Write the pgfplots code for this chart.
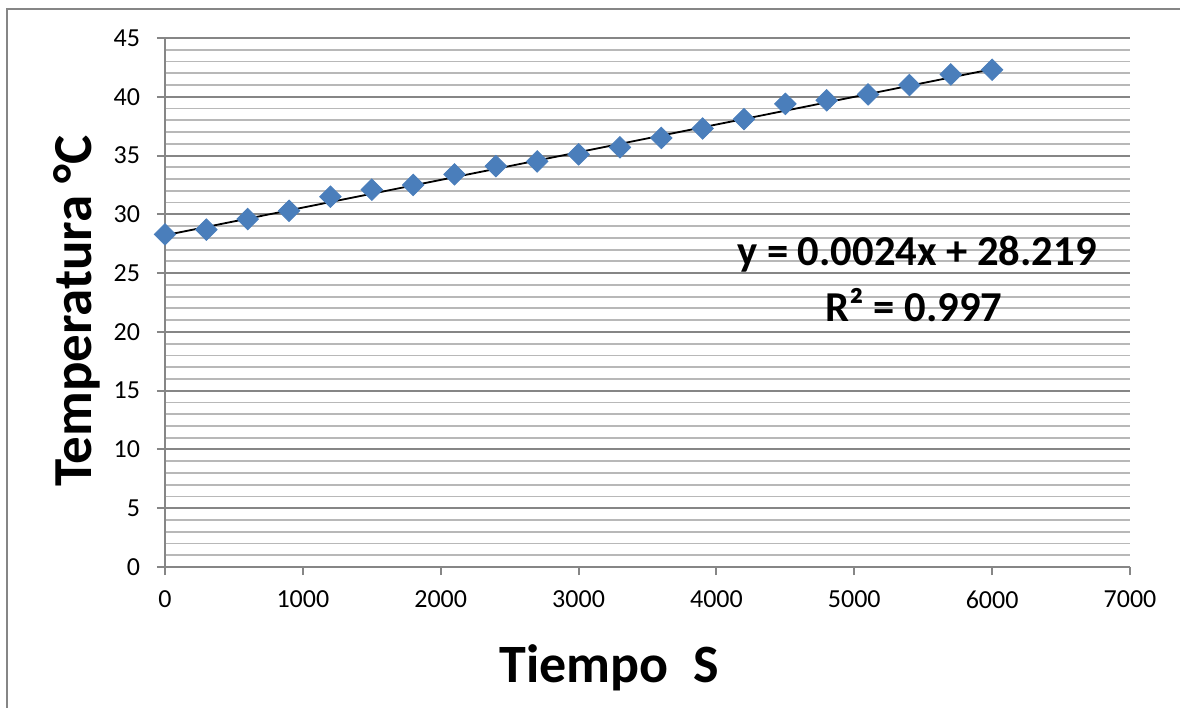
\documentclass[border=0pt]{standalone}
\usepackage{fontspec}
\setmainfont{Carlito}
\usepackage{pgfplots}
\pgfplotsset{compat=1.18}
\definecolor{excelblue}{HTML}{4A7EBB}
\definecolor{majgrid}{HTML}{868686}
\definecolor{mingrid}{HTML}{B8B8B8}
\begin{document}
\begin{tikzpicture}
\path[use as bounding box] (0,0) rectangle (590pt,354pt);
\draw[majgrid, line width=0.75pt] (3.5pt,0) -- (3.5pt,349.5pt) -- (590pt,349.5pt);
\begin{axis}[
    at={(82.5pt,70.5pt)}, anchor=south west,
    width=482.5pt, height=264.5pt, scale only axis,
    xmin=0, xmax=7000, ymin=0, ymax=45,
    xtick={0,1000,...,7000}, ytick={0,5,...,45},
    minor y tick num=4,
    ymajorgrids, yminorgrids,
    axis x line*=bottom, axis y line*=left,
    axis line style={majgrid, line width=1pt},
    tick align=outside,
    major tick length=4pt, minor tick length=0pt,
    tick style={majgrid, line width=1pt},
    major grid style={majgrid, line width=1pt},
    minor grid style={mingrid, line width=0.9pt},
    scaled x ticks=false,
    /pgf/number format/1000 sep={},
    /pgf/number format/assume math mode=true,
    tick label style={font=\fontsize{13pt}{15pt}\selectfont, black},
    yticklabel style={xshift=-5pt},
    xticklabel style={yshift=-4.5pt},
    clip=false,
]
% trend line
\addplot[black, line width=0.9pt, forget plot] coordinates {(0,28.22) (6000,42.35)};
% measurements
\addplot[only marks, mark=square*, mark size=3.8pt,
    mark options={rotate=45, fill=excelblue, draw=excelblue}] coordinates {
    (0,28.3) (300,28.7) (600,29.6) (900,30.3) (1200,31.5) (1500,32.1) (1800,32.5)
    (2100,33.4) (2400,34.1) (2700,34.5) (3000,35.1) (3300,35.7) (3600,36.5)
    (3900,37.3) (4200,38.1) (4500,39.4) (4800,39.7) (5100,40.2) (5400,41.0)
    (5700,41.9) (6000,42.3)
};
\end{axis}
\node[font=\fontsize{21.3pt}{25pt}\selectfont\bfseries] at (458.5pt,227pt) {y = 0.0024x + 28.219};
\node[font=\fontsize{21.3pt}{25pt}\selectfont\bfseries] at (457pt,201.5pt) {R² = 0.997};
\node[font=\fontsize{27.5pt}{32pt}\selectfont\bfseries, rotate=90] at (38.5pt,198.5pt) {Temperatura °C};
\node[font=\fontsize{27pt}{32pt}\selectfont\bfseries] at (304.5pt,20pt) {Tiempo\ \ S};
\end{tikzpicture}
\end{document}
